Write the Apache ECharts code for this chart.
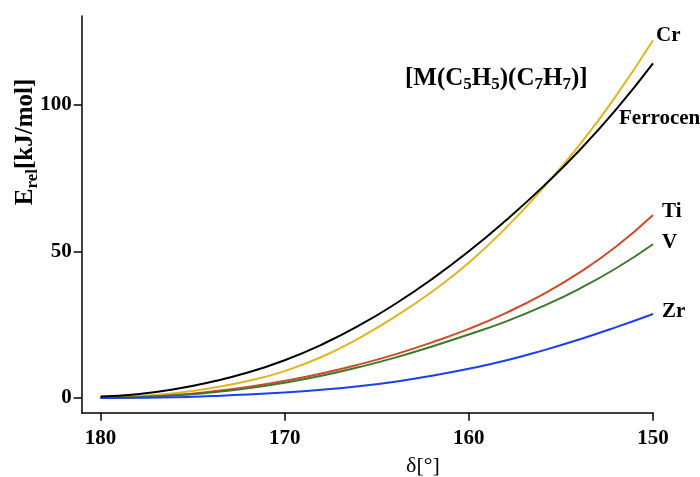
<!DOCTYPE html>
<html>
<head>
<meta charset="utf-8">
<script src="https://cdn.jsdelivr.net/npm/echarts@6/dist/echarts.min.js"></script>
<style>html,body{margin:0;padding:0;background:#fff}#c{width:700px;height:477px}</style>
</head>
<body>
<div id="c"></div>
<script>
const delta = [180,178,176,174,172,170,168,166,164,162,160,158,156,154,152,150];
const seriesNames = ['Cr','Ferrocene','Ti','V','Zr'];
const cr  = [0,0.6,1.65,3.4,5.8,9.2,14.0,20.3,27.8,36.3,46.2,58.0,71.5,86.3,103.2,122.1];
const fc  = [0.5,1.3,3.0,5.5,8.7,12.9,18.2,24.6,32.1,40.6,50.1,60.6,72.0,84.5,98.5,114.2];
const ti  = [0.2,0.4,1.0,2.2,3.8,5.9,8.4,11.4,14.9,19.0,23.6,29.0,35.3,42.8,51.7,62.5];
const va  = [0,0.3,0.85,1.9,3.3,5.2,7.6,10.5,13.8,17.6,21.7,26.1,31.3,37.3,44.3,52.5];
const zr  = [0,0.1,0.3,0.7,1.2,1.9,2.8,4.0,5.6,7.6,10.0,12.8,16.2,20.0,24.2,28.7];
const xTicks = [150,160,170,180];
const yTicks = [0,50,100];

const colors = ['#e2b420','#000000','#d04a2a','#3b7a2c','#1b3ff5'];
const labelOffsets = [[3,-5],[-34,55],[9,-3],[9,-2],[9,-2]];
const values = [cr, fc, ti, va, zr];
const SERIF = '"Liberation Serif","DejaVu Serif",serif';

const chart = echarts.init(document.getElementById('c'), null, {renderer:'canvas'});
const series = seriesNames.map((n,i)=>({
  name: n,
  type: 'line',
  smooth: true,
  showSymbol: false,
  data: delta.map((d,j)=>[d, values[i][j]]),
  lineStyle: {color: colors[i], width: 2},
  itemStyle: {color: colors[i]},
  z: i===1 ? 3 : 2,
  endLabel: {
    show: true,
    formatter: '{a}',
    distance: 0,
    offset: labelOffsets[i],
    align: 'left',
    verticalAlign: 'middle',
    color: '#000',
    fontFamily: SERIF,
    fontWeight: 'bold',
    fontSize: 21
  }
}));

const rich = (fs, sfs) => ({
  n: {fontFamily: SERIF, fontWeight:'bold', fontSize: fs, lineHeight: 30, verticalAlign:'middle', color:'#000'},
  s: {fontFamily: SERIF, fontWeight:'bold', fontSize: sfs, lineHeight: 15, verticalAlign:'bottom', color:'#000'}
});

chart.setOption({
  animation: false,
  backgroundColor: '#fff',
  grid: {left: 81.7, right: 47, top: 16, bottom: 64.3, containLabel: false},
  xAxis: {
    type: 'value', inverse: true, min: 150, max: 181.02,
    splitLine: {show:false},
    axisLine: {show:true, onZero:false, lineStyle:{color:'#000', width:1.5}},
    axisTick: {show:true, customValues: xTicks, length: 8, inside:false, lineStyle:{color:'#000', width:1.5}},
    axisLabel: {show:true, customValues: xTicks, margin: 15, color:'#000', fontFamily: SERIF, fontWeight:'bold', fontSize:21}
  },
  yAxis: {
    type: 'value', min: -5.0, max: 130.4,
    splitLine: {show:false},
    axisLine: {show:true, onZero:false, lineStyle:{color:'#000', width:1.5}},
    axisTick: {show:true, customValues: yTicks, length: 8, inside:false, lineStyle:{color:'#000', width:1.5}},
    axisLabel: {show:true, customValues: yTicks, margin: 10, color:'#000', fontFamily: SERIF, fontWeight:'bold', fontSize:21}
  },
  graphic: [
    {type:'text', x: 405, y: 63.5, z: 10,
     style:{text:'{n|[M(C}{s|5}{n|H}{s|5}{n|)(C}{s|7}{n|H}{s|7}{n|)]}', rich: rich(25,17), align:'left', verticalAlign:'top'}},
    {type:'text', x: 26, y: 142, rotation: Math.PI/2, z: 10,
     style:{text:'{n|E}{s|rel}{n|[kJ/mol]}', rich: rich(25,17), align:'center', verticalAlign:'middle'}},
    {type:'text', x: 423, y: 466, z: 10,
     style:{text:'δ[°]', fontFamily: SERIF, fontSize: 22, fill:'#000', align:'center', verticalAlign:'middle'}}
  ],
  series: series
});
</script>
</body>
</html>
